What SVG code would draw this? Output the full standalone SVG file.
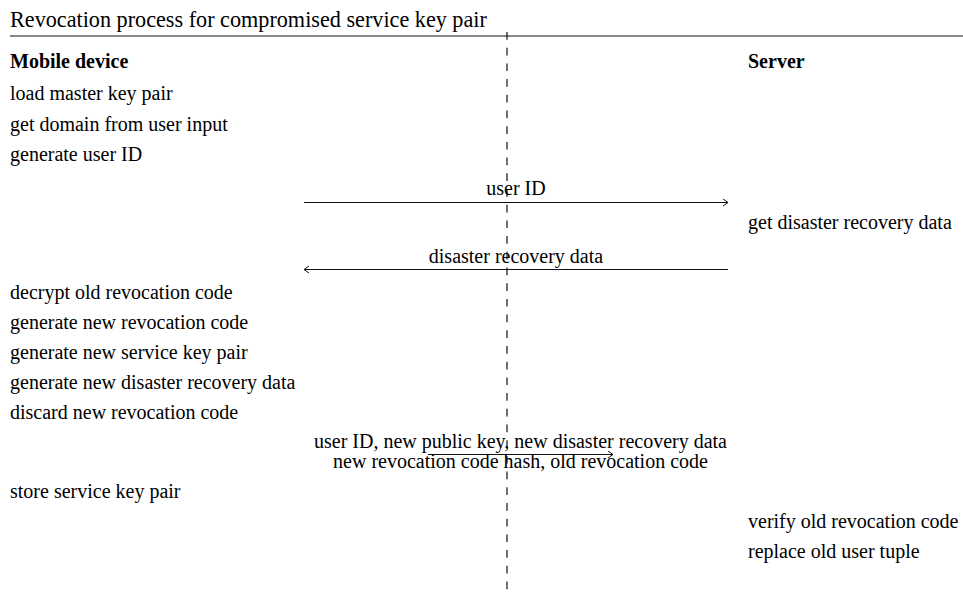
<svg xmlns="http://www.w3.org/2000/svg" width="963" height="593" viewBox="0 0 963 593">
  <style>
    text { font-family: "Liberation Serif", "Times New Roman", serif; fill: #000; }
    .title { font-size: 22.2px; }
    .head { font-size: 20px; font-weight: bold; }
    .step { font-size: 20px; }
    .msg { font-size: 20px; text-anchor: middle; }
    .rule { stroke: #111; stroke-width: 1.2; fill: none; }
    .life { stroke: #111; stroke-width: 1.2; stroke-dasharray: 7.7 8; fill: none; }
    .arrow { stroke: #111; stroke-width: 1.2; fill: none; }
  </style>
  <defs>
    <marker id="chev" viewBox="0 0 6 8" refX="5.5" refY="4" markerWidth="6" markerHeight="8" markerUnits="userSpaceOnUse" orient="auto-start-reverse">
      <path d="M0.5,0.5 L5.5,4 L0.5,7.5" fill="none" stroke="#111" stroke-width="1"/>
    </marker>
  </defs>

  <rect width="963" height="593" fill="#fff"/>

  <g id="header">
    <text class="title" x="10" y="27">Revocation process for compromised service key pair</text>
    <line class="rule" x1="10" y1="36" x2="963" y2="36"/>
  </g>

  <g id="divider">
    <line class="life" x1="507" y1="32" x2="507" y2="593"/>
  </g>

  <g id="mobile-device">
    <text class="head" x="10" y="67.5">Mobile device</text>
    <text class="step" x="10" y="100">load master key pair</text>
    <text class="step" x="10" y="131">get domain from user input</text>
    <text class="step" x="10" y="161">generate user ID</text>
    <text class="step" x="10" y="298.5">decrypt old revocation code</text>
    <text class="step" x="10" y="329">generate new revocation code</text>
    <text class="step" x="10" y="358.5">generate new service key pair</text>
    <text class="step" x="10" y="389">generate new disaster recovery data</text>
    <text class="step" x="10" y="418.5">discard new revocation code</text>
    <text class="step" x="10" y="497.5">store service key pair</text>
  </g>

  <g id="server">
    <text class="head" x="748" y="67.5">Server</text>
    <text class="step" x="748" y="229">get disaster recovery data</text>
    <text class="step" x="748" y="527.5">verify old revocation code</text>
    <text class="step" x="748" y="557.5">replace old user tuple</text>
  </g>

  <g id="connectors">
    <g id="msg-user-id">
      <line class="arrow" x1="304" y1="202.5" x2="728" y2="202.5" marker-end="url(#chev)"/>
      <text class="msg" x="516" y="195">user ID</text>
    </g>
    <g id="msg-recovery-data">
      <line class="arrow" x1="728" y1="269.5" x2="304" y2="269.5" marker-end="url(#chev)"/>
      <text class="msg" x="516" y="263">disaster recovery data</text>
    </g>
    <g id="msg-revocation">
      <line class="arrow" x1="428" y1="454.5" x2="613" y2="454.5" marker-end="url(#chev)"/>
      <text class="msg" x="520.5" y="448">user ID, new public key, new disaster recovery data</text>
      <text class="msg" x="520.5" y="468">new revocation code hash, old revocation code</text>
    </g>
  </g>
</svg>
